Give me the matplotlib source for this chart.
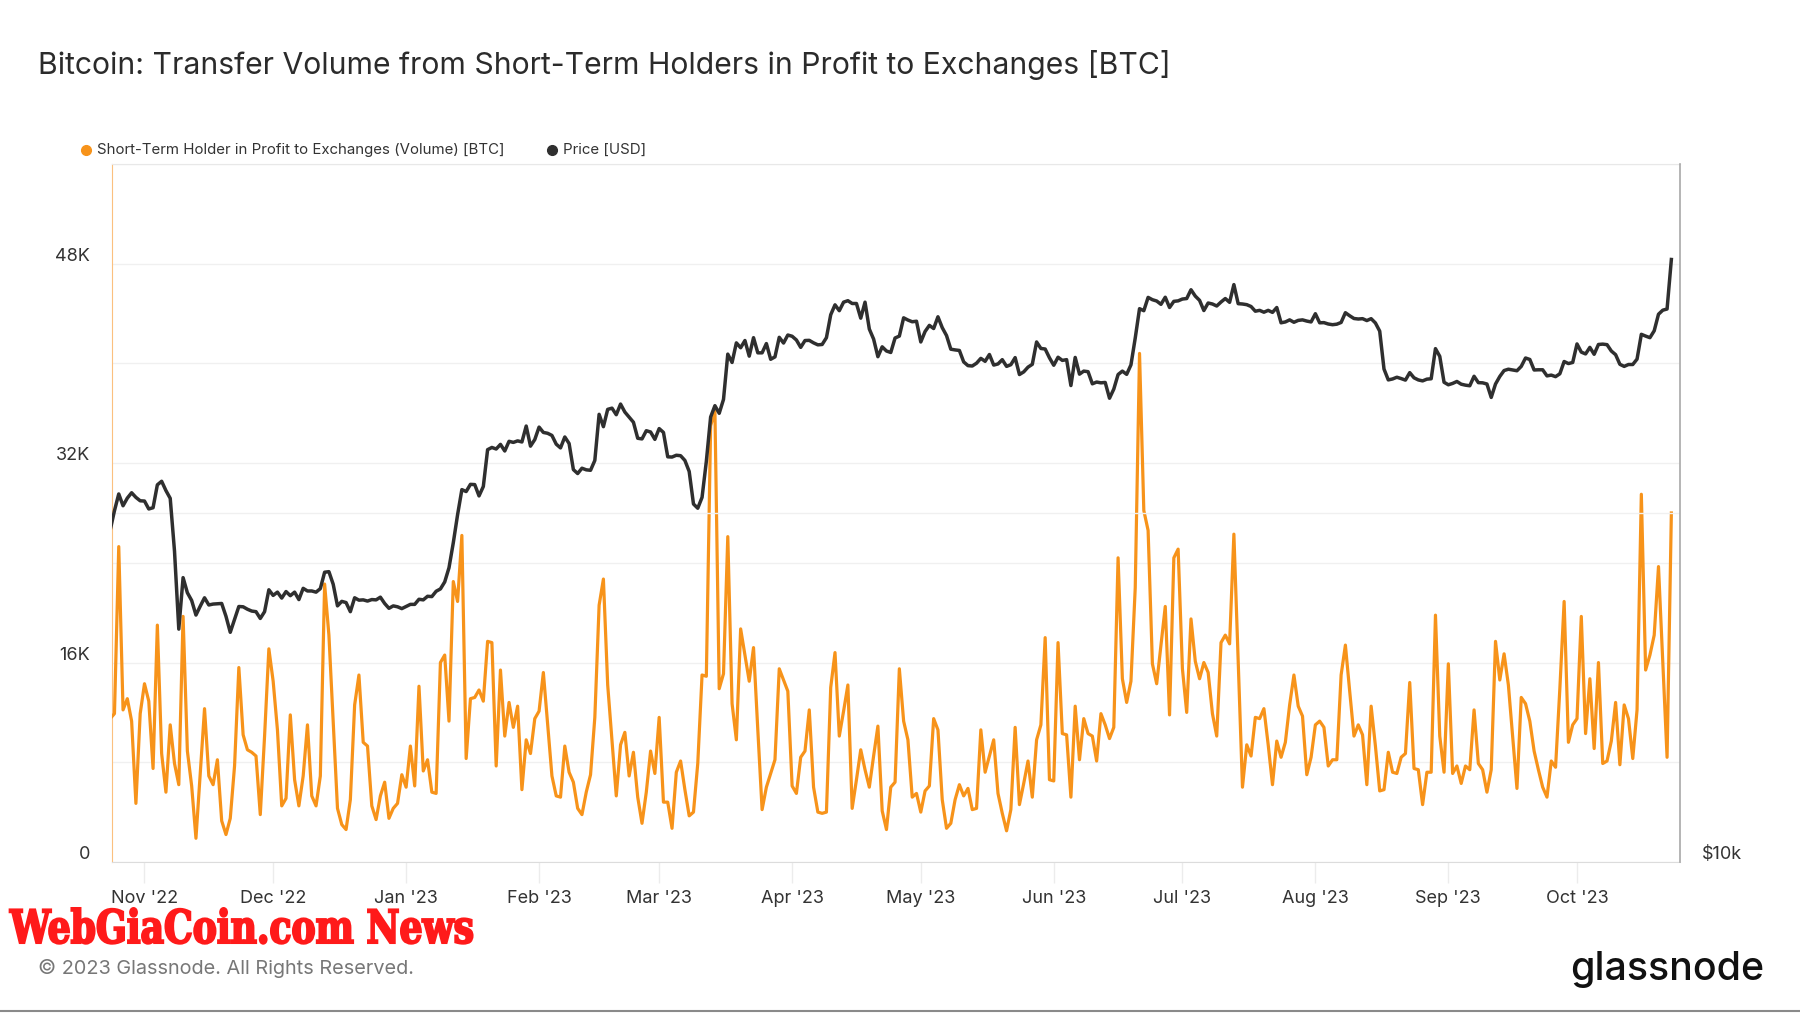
import matplotlib
matplotlib.use("Agg")
import matplotlib.pyplot as plt
import matplotlib.dates as mdates
from matplotlib.lines import Line2D
from matplotlib.ticker import FixedLocator, NullLocator
from matplotlib.textpath import TextPath
from matplotlib.patches import PathPatch
from matplotlib.font_manager import FontProperties
from matplotlib.transforms import Affine2D, IdentityTransform
import numpy as np
import pandas as pd

plt.rcParams['font.family'] = ['Inter', 'DejaVu Sans']

# daily transfer volume, thousands of BTC
vol_oct22 = [11.5, 11.9, 25.3, 12.2, 13.1, 11.3, 4.7, 11.9]
vol_nov22 = [14.3, 12.9, 7.5, 19.0, 8.7, 5.6, 11.0, 7.9, 6.2, 19.7, 8.9, 6.1, 1.9, 7.1, 12.3,
             6.9, 6.2, 8.2, 3.3, 2.2, 3.5, 7.7, 15.6, 10.2, 9.0, 8.8, 8.5, 3.8, 10.1, 17.1]
vol_dec22 = [14.5, 10.6, 4.5, 5.1, 11.8, 6.6, 4.5, 6.9, 11.0, 5.3, 4.5, 6.9, 22.3, 18.2, 11.3,
             4.3, 3.0, 2.6, 5.0, 12.6, 15.0, 9.6, 9.3, 4.5, 3.4, 5.3, 6.4, 3.5, 4.3, 4.7, 7.0]
vol_jan23 = [6.0, 9.3, 6.1, 14.1, 7.3, 8.2, 5.6, 5.5, 16.0, 16.6, 11.3, 22.5, 20.9, 26.2, 8.3,
             13.1, 13.2, 13.8, 12.9, 17.7, 17.6, 7.7, 15.4, 10.1, 12.8, 10.8, 12.5, 5.8, 9.8, 8.7, 11.5]
vol_feb23 = [12.1, 15.2, 11.0, 6.9, 5.3, 5.2, 9.3, 7.2, 6.4, 4.3, 3.8, 5.6, 7.0, 11.6,
             20.6, 22.7, 14.2, 9.7, 5.3, 9.4, 10.4, 6.9, 8.8, 5.2, 3.1, 5.6, 8.9, 7.1]
vol_mar23 = [11.6, 4.8, 4.8, 2.7, 7.2, 8.1, 5.8, 3.7, 4.0, 7.9, 15.0, 14.9, 35.0, 36.2, 13.9,
             15.1, 26.1, 12.7, 9.8, 18.7, 16.6, 14.5, 17.2, 10.6, 4.2, 6.0, 7.1, 8.2, 15.5, 14.6, 13.7]
vol_apr23 = [6.1, 5.5, 8.4, 8.9, 12.2, 6.0, 4.0, 3.9, 4.0, 14.0, 16.8, 10.1, 12.1, 14.2, 4.3,
             6.6, 9.0, 7.4, 6.0, 8.5, 10.9, 4.1, 2.6, 6.0, 6.4, 15.5, 11.3, 9.8, 5.2, 5.5]
vol_may23 = [4.0, 5.7, 6.1, 11.5, 10.6, 5.0, 2.7, 3.1, 5.0, 6.2, 5.3, 5.9, 4.2, 4.3, 10.6,
             7.2, 8.5, 9.8, 5.5, 3.9, 2.5, 4.2, 10.8, 4.6, 6.3, 8.1, 5.2, 9.8, 11.0, 18.0, 6.6]
vol_jun23 = [6.5, 17.6, 10.3, 10.2, 5.2, 12.5, 8.2, 11.5, 10.3, 10.1, 8.1, 11.9, 11.0, 9.9, 10.8,
             24.4, 14.7, 12.8, 14.5, 22.0, 40.8, 28.2, 26.6, 15.9, 14.3, 17.4, 20.5, 11.8, 24.4, 25.1]
vol_jul23 = [15.5, 12.0, 19.5, 16.1, 14.7, 16.0, 15.2, 11.9, 10.1, 17.6, 18.2, 17.5, 26.3, 16.1, 6.0,
             9.4, 8.5, 11.6, 11.5, 12.3, 9.4, 6.2, 9.7, 8.4, 9.6, 12.6, 15.0, 12.5, 11.7, 7.0, 8.4]
vol_aug23 = [11.0, 11.3, 10.8, 7.7, 8.2, 8.2, 15.0, 17.4, 13.7, 10.1, 11.0, 10.2, 6.2, 12.5, 9.3,
             5.7, 5.8, 8.8, 7.2, 7.1, 8.4, 8.7, 14.4, 7.5, 7.4, 4.6, 7.2, 7.2, 19.8, 10.1, 7.2]
vol_sep23 = [15.9, 7.1, 7.7, 6.3, 7.7, 7.4, 12.2, 7.9, 7.4, 5.6, 7.4, 17.7, 14.6, 16.7, 14.2,
             10.0, 5.9, 13.2, 12.7, 11.3, 8.9, 7.4, 6.0, 5.2, 8.1, 7.6, 13.9, 20.9, 9.6, 11.0]
vol_oct23 = [11.5, 19.7, 10.3, 14.7, 9.1, 16.0, 7.9, 8.1, 9.7, 12.8, 7.8, 12.6, 11.5, 8.3, 12.2,
             29.5, 15.4, 16.6, 18.2, 23.7, 16.1, 8.4, 28.0]

# daily price, thousands of USD
px_oct22 = [19.33, 20.09, 20.77, 20.29, 20.60, 20.82, 20.63, 20.49]
px_nov22 = [20.48, 20.16, 20.21, 21.15, 21.30, 20.91, 20.59, 18.54, 15.88, 17.59, 17.07, 16.81, 16.33,
            16.62, 16.90, 16.66, 16.69, 16.70, 16.71, 16.29, 15.78, 16.19, 16.61, 16.60, 16.52, 16.46,
            16.44, 16.22, 16.44, 17.17]
px_dec22 = [16.98, 17.09, 16.89, 17.11, 16.97, 17.09, 16.84, 17.22, 17.13, 17.13, 17.09, 17.21, 17.78,
            17.80, 17.36, 16.63, 16.78, 16.74, 16.44, 16.90, 16.82, 16.83, 16.79, 16.84, 16.83, 16.92,
            16.71, 16.55, 16.63, 16.60, 16.54]
px_jan23 = [16.61, 16.68, 16.68, 16.85, 16.83, 16.95, 16.94, 17.12, 17.20, 17.44, 17.94, 18.85, 19.93,
            20.95, 20.87, 21.17, 21.16, 20.69, 21.08, 22.68, 22.78, 22.71, 22.92, 22.62, 23.06, 23.01,
            23.08, 23.03, 23.77, 22.84, 23.14]
px_feb23 = [23.72, 23.47, 23.43, 23.33, 22.93, 22.76, 23.26, 22.96, 21.80, 21.63, 21.86, 21.79, 21.77,
            22.20, 24.33, 23.74, 24.57, 24.63, 24.31, 24.83, 24.44, 24.19, 23.95, 23.20, 23.17, 23.55,
            23.49, 23.15]
px_mar23 = [23.65, 23.47, 22.36, 22.35, 22.43, 22.41, 22.20, 21.72, 20.36, 20.19, 20.63, 22.16, 24.20,
            24.75, 24.38, 25.06, 27.42, 26.97, 28.04, 27.77, 28.17, 27.31, 28.33, 27.49, 27.49, 28.00,
            27.14, 27.27, 28.35, 28.03, 28.48]
px_apr23 = [28.41, 28.20, 27.79, 28.17, 28.18, 28.04, 27.93, 27.95, 28.33, 29.65, 30.24, 29.89, 30.40,
            30.49, 30.32, 30.32, 29.45, 30.40, 28.82, 28.25, 27.28, 27.82, 27.59, 27.51, 28.31, 28.42,
            29.47, 29.34, 29.24, 29.27]
px_may23 = [28.09, 28.68, 29.03, 28.85, 29.53, 28.90, 28.45, 27.69, 27.65, 27.62, 27.00, 26.80, 26.78,
            26.93, 27.19, 27.03, 27.40, 26.83, 26.89, 27.12, 26.76, 26.85, 27.23, 26.33, 26.47, 26.72,
            26.87, 28.09, 27.73, 27.70, 27.22]
px_jun23 = [26.82, 27.25, 27.08, 27.12, 25.76, 27.24, 26.35, 26.51, 26.48, 25.85, 25.94, 25.90, 25.92,
            25.12, 25.58, 26.33, 26.51, 26.34, 26.84, 28.31, 30.01, 29.89, 30.69, 30.55, 30.47, 30.27,
            30.70, 30.08, 30.45, 30.48]
px_jul23 = [30.59, 30.62, 31.16, 30.77, 30.51, 29.90, 30.35, 30.29, 30.17, 30.41, 30.62, 30.39, 31.48,
            30.31, 30.29, 30.25, 30.14, 29.86, 29.91, 29.80, 29.91, 29.79, 30.08, 29.18, 29.23, 29.35,
            29.21, 29.32, 29.35, 29.28, 29.23]
px_aug23 = [29.71, 29.18, 29.19, 29.11, 29.07, 29.10, 29.20, 29.77, 29.59, 29.43, 29.40, 29.42, 29.31,
            29.42, 29.17, 28.70, 26.62, 26.05, 26.10, 26.19, 26.12, 26.04, 26.43, 26.16, 26.05, 26.00,
            26.09, 26.11, 27.72, 27.30, 25.93]
px_sep23 = [25.80, 25.87, 25.97, 25.83, 25.78, 25.75, 26.24, 25.91, 25.90, 25.84, 25.16, 25.84, 26.23,
            26.54, 26.61, 26.57, 26.53, 26.76, 27.21, 27.13, 26.57, 26.58, 26.58, 26.26, 26.30, 26.22,
            26.37, 27.02, 26.91, 26.97]
px_oct23 = [27.98, 27.53, 27.43, 27.79, 27.41, 27.95, 27.97, 27.94, 27.59, 27.39, 26.87, 26.76, 26.86,
            26.86, 27.15, 28.52, 28.42, 28.33, 28.72, 29.68, 29.92, 29.99, 33.09]

volume = np.array(vol_oct22 + vol_nov22 + vol_dec22 + vol_jan23 + vol_feb23 + vol_mar23 + vol_apr23
                  + vol_may23 + vol_jun23 + vol_jul23 + vol_aug23 + vol_sep23 + vol_oct23) * 1000
price = np.array(px_oct22 + px_nov22 + px_dec22 + px_jan23 + px_feb23 + px_mar23 + px_apr23
                 + px_may23 + px_jun23 + px_jul23 + px_aug23 + px_sep23 + px_oct23) * 1000
dates = pd.date_range('2022-10-24', periods=len(volume), freq='D')

ORANGE = '#f7931a'
DARK = '#2f2f2f'
TXT = '#333333'

fig = plt.figure(figsize=(18, 10.13), dpi=100)
ax = fig.add_axes([0.0621, 0.1491, 0.8710, 0.6890])
ax2 = ax.twinx()

ax.plot(dates, volume, color=ORANGE, lw=2.3, solid_joinstyle='round', zorder=3)
ax2.plot(dates, price, color=DARK, lw=2.5, solid_joinstyle='round', zorder=3)

ax.set_ylim(0, 56000)
ax2.set_yscale('log')
ax2.set_ylim(10000, 40000)
ax.set_xlim(pd.Timestamp('2022-10-24 09:00'), pd.Timestamp('2023-10-24 22:00'))

ax.set_yticks(np.arange(0, 56001, 8000))
ax.grid(axis='y', color='#f0f0f0', lw=1)
ax.tick_params(axis='y', length=0, labelleft=False)
ax2.yaxis.set_major_locator(FixedLocator([20000]))
ax2.yaxis.set_minor_locator(NullLocator())
ax2.grid(axis='y', color='#f0f0f0', lw=1, zorder=0)
ax2.tick_params(axis='y', which='both', length=0, labelright=False)

ax.xaxis.set_major_locator(mdates.MonthLocator())
ax.xaxis.set_major_formatter(mdates.DateFormatter("%b '%y"))
ax.tick_params(axis='x', length=15, width=1, color='#ececec', pad=5,
               labelsize=13, labelcolor=TXT)

ax.spines['top'].set_color('#e8e8e8')
ax.spines['bottom'].set_color('#dcdcdc')
ax.spines['left'].set_color('#fbc07f')
ax.spines['right'].set_visible(False)
for s in ['top', 'bottom', 'left']:
    ax2.spines[s].set_visible(False)
ax2.spines['right'].set_color('#a8a8a8')
ax2.spines['right'].set_linewidth(1.2)

left_ticks = [0, 16000, 32000, 48000]
left_labels = ['0', '16K', '32K', '48K']
for v, lab in zip(left_ticks, left_labels):
    ax.annotate(lab, xy=(0, v), xycoords=('axes fraction', 'data'), xytext=(-22, 3),
                textcoords='offset pixels', ha='right', va='baseline', fontsize=13,
                color=TXT, annotation_clip=False)
ax2.annotate('$10k', xy=(1, 10000), xycoords=('axes fraction', 'data'), xytext=(22, 3),
             textcoords='offset pixels', ha='left', va='baseline', fontsize=13,
             color=TXT, annotation_clip=False)

H = 1013.0
def fy(py):
    return 1 - py / H

fig.text(38 / 1800, fy(65.5), 'Bitcoin: Transfer Volume from Short-Term Holders in Profit to Exchanges [BTC]',
         fontsize=21.7, color='#2b2b2b', va='center', ha='left')

fig.add_artist(Line2D([86 / 1800], [fy(150)], marker='o', ms=7, color=ORANGE,
                      transform=fig.transFigure))
fig.text(97 / 1800, fy(150), 'Short-Term Holder in Profit to Exchanges (Volume) [BTC]',
         fontsize=10.8, color=TXT, va='center', ha='left')
fig.add_artist(Line2D([552 / 1800], [fy(150)], marker='o', ms=7, color=DARK,
                      transform=fig.transFigure))
fig.text(563 / 1800, fy(150), 'Price [USD]', fontsize=10.8, color=TXT, va='center', ha='left')

# watermark: heavy serif squeezed horizontally
wm = TextPath((0, 0), 'WebGiaCoin.com News', size=46,
              prop=FontProperties(family='DejaVu Serif', weight='bold'))
wm_path = Affine2D().scale(0.786, 1.0).translate(10, H - 943).transform_path(wm)
fig.add_artist(PathPatch(wm_path, transform=IdentityTransform(), facecolor='#ff1a1a',
                         edgecolor='#ff1a1a', lw=1.5))

fig.text(38 / 1800, fy(968), '\u00a9 2023 Glassnode. All Rights Reserved.', fontsize=14.3,
         color='#777777', va='center', ha='left')
fig.text(1570 / 1800, fy(969), 'glassnode', fontsize=28.3, fontweight='medium', color='#111111',
         va='center', ha='left')

fig.add_artist(Line2D([0, 1], [fy(1011), fy(1011)], color='#8a8a8a', lw=1.5,
                      transform=fig.transFigure))

fig.savefig('out.png', dpi=100)
